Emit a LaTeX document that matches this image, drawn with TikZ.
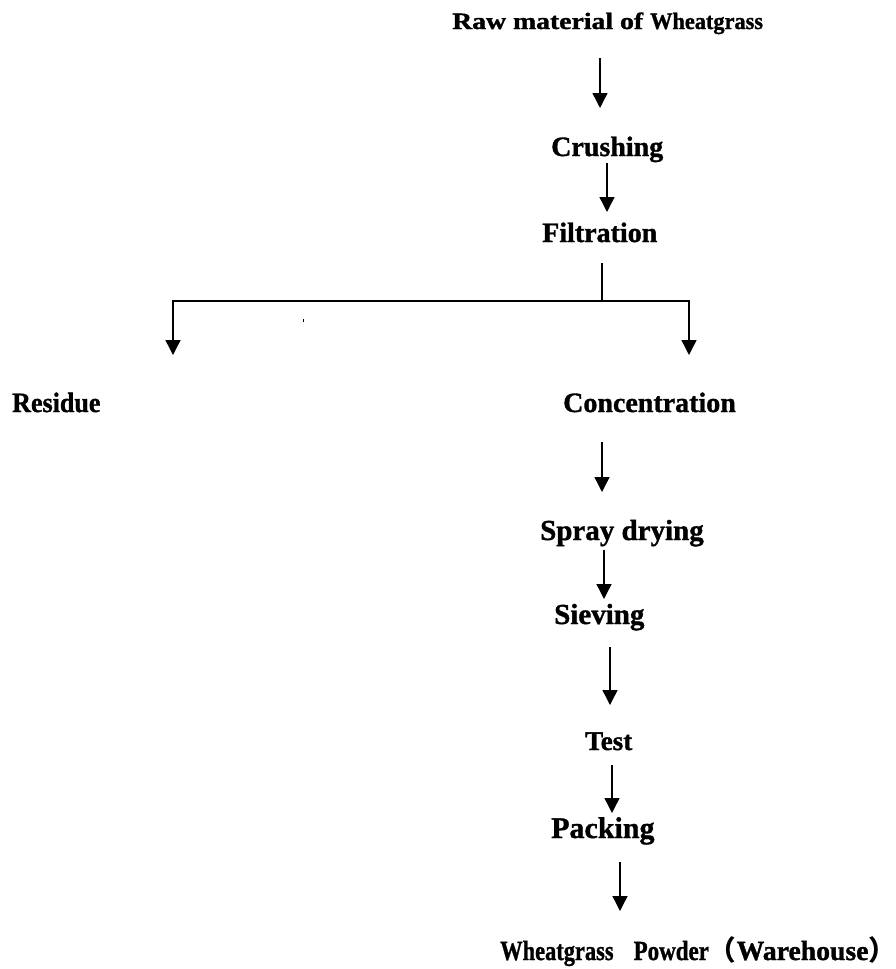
\documentclass[tikz,border=0pt]{standalone}
\usepackage{fontspec}
\setmainfont[BoldFeatures={FakeBold=1.2}]{Liberation Serif}
\newfontfamily\cjkfont{Noto Sans CJK SC}
\usetikzlibrary{arrows.meta}
\newcommand{\fs}[1]{\fontsize{#1}{#1}\selectfont}
\tikzset{
  lbl/.style={anchor=base west, inner sep=0pt, font=\bfseries},
  flow/.style={line width=1.4pt, -{Triangle[length=15pt,width=15pt]}},
  plain/.style={line width=1.4pt}
}
\begin{document}
\begin{tikzpicture}[x={(1pt,0)}, y={(0,-1pt)}]
\useasboundingbox (0,0) rectangle (895,969);
% labels
\node[lbl] (raw) at (452,29) {\fs{23.5}\scalebox{1.18}[1]{Raw material of}\hspace{7pt}\scalebox{0.95}[1]{Wheatgrass}};
\node[lbl] (crush) at (551,156) {\fs{28}Crushing};
\node[lbl] (filt) at (542,242) {\fs{28}Filtration};
\node[lbl] (res) at (12,412) {\fs{28}\scalebox{0.93}[1]{Residue}};
\node[lbl] (conc) at (563,412) {\fs{28}Concentration};
\node[lbl] (spray) at (540,540) {\fs{29}Spray drying};
\node[lbl] (siev) at (554,624) {\fs{29}Sieving};
\node[lbl] (test) at (585,750) {\fs{27}Test};
\node[lbl] (pack) at (551,838) {\fs{30}Packing};
\node[lbl] (powder) at (500,960) {\fs{27.7}\scalebox{0.81}[1]{Wheatgrass}\hspace{20pt}\scalebox{0.83}[1]{Powder}{\cjkfont （}Warehouse{\cjkfont ）}};
% connector end points
\coordinate (a1s) at (600,58);  \coordinate (a1e) at (600,108);
\coordinate (a2s) at (607,163); \coordinate (a2e) at (607,212);
\coordinate (bt) at (602,263);  \coordinate (bj) at (602,301);
\coordinate (bl) at (173,301);  \coordinate (br) at (689,301);
\coordinate (ble) at (173,355); \coordinate (bre) at (689,355);
\coordinate (a3s) at (602,442); \coordinate (a3e) at (602,492);
\coordinate (a4s) at (604,550); \coordinate (a4e) at (604,599);
\coordinate (a5s) at (610,647); \coordinate (a5e) at (610,705);
\coordinate (a6s) at (612,765); \coordinate (a6e) at (612,813);
\coordinate (a7s) at (620,862); \coordinate (a7e) at (620,911);
\coordinate (tk1) at (303,319); \coordinate (tk2) at (303,322);
% connectors
\draw[flow] (a1s) -- (a1e);
\draw[flow] (a2s) -- (a2e);
\draw[plain] (bt) -- (bj);
\draw[plain, line cap=rect] (bl) -- (br);
\draw[flow] (bl) -- (ble);
\draw[flow] (br) -- (bre);
\draw[flow] (a3s) -- (a3e);
\draw[flow] (a4s) -- (a4e);
\draw[flow] (a5s) -- (a5e);
\draw[flow] (a6s) -- (a6e);
\draw[flow] (a7s) -- (a7e);
\draw[line width=0.8pt] (tk1) -- (tk2);
\end{tikzpicture}
\end{document}
